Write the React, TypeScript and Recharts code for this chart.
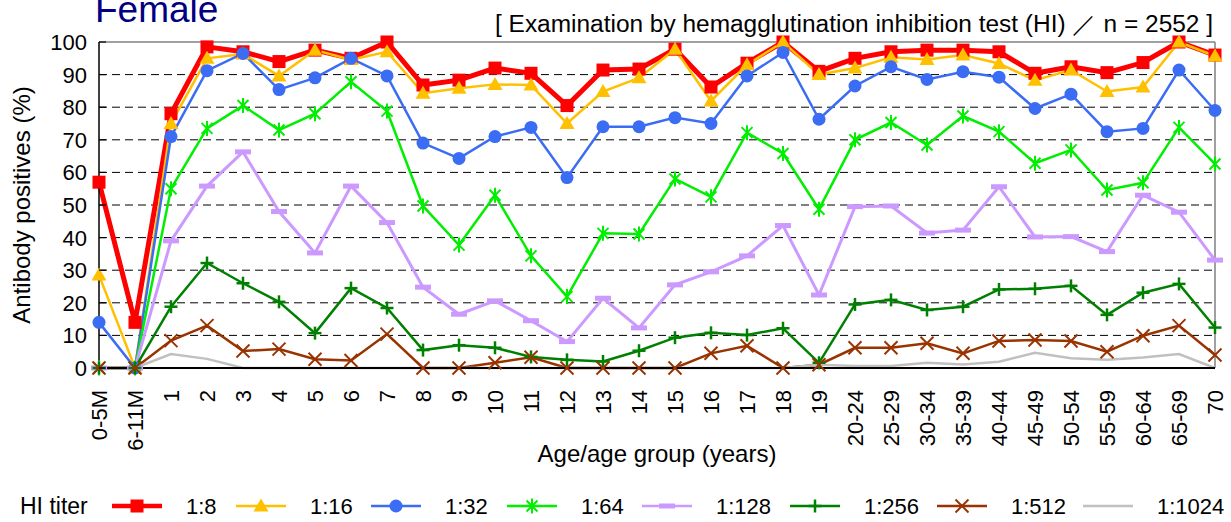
import React from 'react';
import { LineChart, Line, XAxis, YAxis, CartesianGrid, ReferenceLine } from 'recharts';

const ageGroups = [
  '0-5M', '6-11M', '1', '2', '3', '4', '5', '6', '7', '8', '9', '10', '11', '12', '13', '14', '15', '16', '17', '18', '19',
  '20-24', '25-29', '30-34', '35-39', '40-44', '45-49', '50-54', '55-59', '60-64', '65-69', '70',
];

const titer8 = [57, 14, 78, 98.5, 97, 94, 97.5, 95, 100, 86.8, 88.3, 92, 90.4, 80.5, 91.4, 91.7, 97.8, 86.2, 93.5, 100, 91, 95, 97, 97.5, 97.5, 97, 90.4, 92.4, 90.6, 93.7, 100, 96];
const titer16 = [28.5, 0, 75, 95, 96.3, 89.6, 97.5, 94.6, 97, 84.3, 85.8, 87, 86.8, 75, 84.8, 89, 97.8, 81.9, 93, 100, 90, 92, 95.3, 94.6, 96, 93.4, 88.3, 91.4, 84.8, 86.2, 100, 95.7];
const titer32 = [14, 0, 71, 91.2, 96.5, 85.4, 89, 95, 89.6, 69, 64.3, 71, 73.8, 58.4, 74, 74, 76.8, 75, 89.6, 96.8, 76.3, 86.5, 92.4, 88.5, 90.9, 89.2, 79.6, 84, 72.5, 73.5, 91.4, 79];
const titer64 = [0, 0, 55, 73.5, 80.5, 73, 78, 87.8, 78.8, 49.7, 37.7, 53, 34.4, 21.9, 41.3, 41.1, 58, 52.5, 72.2, 65.8, 48.7, 70, 75.3, 68.4, 77.3, 72.5, 62.8, 66.9, 54.6, 56.8, 73.8, 62.6];
const titer128 = [0, 0, 39, 55.8, 66.3, 48, 35.3, 55.8, 44.6, 24.8, 16.5, 20.6, 14.5, 8.1, 21.4, 12.3, 25.5, 29.5, 34.4, 43.7, 22.4, 49.5, 49.7, 41.4, 42.3, 55.6, 40.2, 40.3, 35.7, 53, 47.8, 33.1];
const titer256 = [0, 0, 18.8, 32.2, 26, 20.3, 10.7, 24.5, 18.4, 5.5, 7, 6.2, 3.4, 2.5, 2, 5.3, 9.3, 10.8, 10.1, 12.2, 1.6, 19.5, 20.9, 17.8, 18.8, 24.1, 24.3, 25.2, 16.3, 23.1, 25.8, 12.4];
const titer512 = [0, 0, 8.4, 13, 5.2, 5.8, 2.7, 2.3, 10.4, 0, 0, 1.6, 3.3, 0, 0, 0, 0, 4.5, 6.8, 0, 1, 6.2, 6.2, 7.6, 4.5, 8.3, 8.6, 8.3, 5, 9.9, 13, 4];
const titer1024 = [0, 0, 4.3, 2.8, 0, 0, 0, 0, 0, 0, 0, 0, 0, 0, 0, 0, 0, 0, 0, 0, 1, 0.6, 0.6, 1.6, 1.1, 1.9, 4.7, 3, 2.5, 3.2, 4.3, 0];

const yTicks = [0, 10, 20, 30, 40, 50, 60, 70, 80, 90, 100];
const gridValues = [10, 20, 30, 40, 50, 60, 70, 80, 90];

const titleText = 'Female';
const subtitleText = '[ Examination by hemagglutination inhibition test (HI)  \uFF0F  n = 2552 ]';
const yAxisTitle = 'Antibody positives (%)';
const xAxisTitle = 'Age/age group (years)';
const legendTitle = 'HI titer';

const FONT = '"Liberation Sans", Arial, Helvetica, sans-serif';

type Shape = 'square' | 'triangle' | 'circle' | 'asterisk' | 'dash' | 'plus' | 'cross' | 'none';

const seriesDefs: { key: string; name: string; values: number[]; color: string; width: number; shape: Shape }[] = [
  { key: 't8', name: '1:8', values: titer8, color: '#FF0000', width: 5, shape: 'square' },
  { key: 't16', name: '1:16', values: titer16, color: '#FFC000', width: 2.5, shape: 'triangle' },
  { key: 't32', name: '1:32', values: titer32, color: '#3A6CF4', width: 2.5, shape: 'circle' },
  { key: 't64', name: '1:64', values: titer64, color: '#00EE00', width: 2.5, shape: 'asterisk' },
  { key: 't128', name: '1:128', values: titer128, color: '#CC99FF', width: 3, shape: 'dash' },
  { key: 't256', name: '1:256', values: titer256, color: '#008000', width: 2.5, shape: 'plus' },
  { key: 't512', name: '1:512', values: titer512, color: '#993300', width: 2.5, shape: 'cross' },
  { key: 't1024', name: '1:1024', values: titer1024, color: '#C0C0C0', width: 2.5, shape: 'none' },
];

const data = ageGroups.map((age, i) => {
  const row: Record<string, string | number> = { age };
  seriesDefs.forEach((s) => {
    row[s.key] = s.values[i];
  });
  return row;
});

function Marker({ shape, color, cx, cy }: { shape: Shape; color: string; cx: number; cy: number }) {
  switch (shape) {
    case 'square':
      return <rect x={cx - 6.5} y={cy - 6.5} width={13} height={13} fill={color} />;
    case 'triangle':
      return <polygon points={`${cx},${cy - 7.5} ${cx - 7.5},${cy + 5.5} ${cx + 7.5},${cy + 5.5}`} fill={color} />;
    case 'circle':
      return <circle cx={cx} cy={cy} r={6.5} fill={color} />;
    case 'asterisk':
      return (
        <g stroke={color} strokeWidth={2}>
          <line x1={cx - 5.5} y1={cy - 5.5} x2={cx + 5.5} y2={cy + 5.5} />
          <line x1={cx - 5.5} y1={cy + 5.5} x2={cx + 5.5} y2={cy - 5.5} />
          <line x1={cx} y1={cy - 7.5} x2={cx} y2={cy + 7.5} />
        </g>
      );
    case 'dash':
      return <rect x={cx - 8} y={cy - 2.5} width={16} height={5} fill={color} />;
    case 'plus':
      return (
        <g stroke={color} strokeWidth={2.5}>
          <line x1={cx - 6.5} y1={cy} x2={cx + 6.5} y2={cy} />
          <line x1={cx} y1={cy - 6.5} x2={cx} y2={cy + 6.5} />
        </g>
      );
    case 'cross':
      return (
        <g stroke={color} strokeWidth={2}>
          <line x1={cx - 6.5} y1={cy - 6.5} x2={cx + 6.5} y2={cy + 6.5} />
          <line x1={cx - 6.5} y1={cy + 6.5} x2={cx + 6.5} y2={cy - 6.5} />
        </g>
      );
    default:
      return null;
  }
}

function makeDot(shape: Shape, color: string) {
  return (props: any) => {
    const { cx, cy, index } = props;
    if (cx == null || cy == null) return <g key={`d-${index}`} />;
    return (
      <g key={`d-${shape}-${index}`}>
        <Marker shape={shape} color={color} cx={cx} cy={cy} />
      </g>
    );
  };
}

function XTick(props: any) {
  const { x, payload } = props;
  const y = 390;
  return (
    <text
      x={x}
      y={y}
      dy="0.35em"
      transform={`rotate(-90, ${x}, ${y})`}
      textAnchor="end"
      fontFamily={FONT}
      fontSize={22}
      fill="#000"
    >
      {payload.value}
    </text>
  );
}

function YTick(props: any) {
  const { x, y, payload } = props;
  return (
    <g>
      <line x1={x} y1={y} x2={x + 7} y2={y} stroke="#000" strokeWidth={1.2} />
      <text x={x - 12} y={y} dy="0.36em" textAnchor="end" fontFamily={FONT} fontSize={22} fill="#000">
        {payload.value}
      </text>
    </g>
  );
}

const legendItemX = [112, 236, 371, 507, 642, 790, 937, 1083];
const LEGEND_Y = 506;

export default function App() {
  return (
    <div style={{ position: 'absolute', left: 0, top: 0, width: 1231, height: 522, background: '#fff' }}>
      <LineChart
        width={1231}
        height={522}
        data={data}
        margin={{ top: 42, right: 16, bottom: 0, left: 19 }}
      >
        <CartesianGrid
          horizontal
          vertical={false}
          horizontalValues={gridValues}
          stroke="#000"
          strokeDasharray="8 5"
          strokeWidth={1}
        />
        <ReferenceLine y={100} stroke="#808080" strokeWidth={1.5} ifOverflow="extendDomain" />
        <ReferenceLine x="70" stroke="#808080" strokeWidth={1.5} />
        <XAxis
          dataKey="age"
          interval={0}
          height={154}
          tick={<XTick />}
          tickLine={false}
          axisLine={{ stroke: '#000', strokeWidth: 2 }}
        />
        <YAxis
          width={80}
          domain={[0, 100]}
          ticks={yTicks}
          interval={0}
          tickSize={0}
          tickMargin={0}
          tickLine={false}
          tick={<YTick />}
          axisLine={{ stroke: '#000', strokeWidth: 1.5 }}
        />
        {seriesDefs.map((s) => (
          <Line
            key={s.key}
            type="linear"
            dataKey={s.key}
            name={s.name}
            stroke={s.color}
            strokeWidth={s.width}
            dot={s.shape === 'none' ? false : makeDot(s.shape, s.color)}
            activeDot={false}
            isAnimationActive={false}
          />
        ))}
      </LineChart>
      <svg
        width={1231}
        height={522}
        style={{ position: 'absolute', left: 0, top: 0, pointerEvents: 'none' }}
      >
        <text x={95} y={22} fontFamily={FONT} fontSize={37} fill="#000080">
          {titleText}
        </text>
        <text
          x={495}
          y={32}
          textLength={718}
          lengthAdjust="spacingAndGlyphs"
          fontFamily={FONT}
          fontSize={23}
          fill="#000"
        >
          {subtitleText}
        </text>
        <text
          x={0}
          y={0}
          transform="translate(30, 205) rotate(-90)"
          textAnchor="middle"
          fontFamily={FONT}
          fontSize={24}
          fill="#000"
        >
          {yAxisTitle}
        </text>
        <text x={657} y={462} textAnchor="middle" fontFamily={FONT} fontSize={24} fill="#000">
          {xAxisTitle}
        </text>
        <text x={20} y={514} fontFamily={FONT} fontSize={23} fill="#000">
          {legendTitle}
        </text>
        {seriesDefs.map((s, i) => {
          const x0 = legendItemX[i];
          return (
            <g key={`leg-${s.key}`}>
              <line
                x1={x0}
                y1={LEGEND_Y}
                x2={x0 + 50}
                y2={LEGEND_Y}
                stroke={s.color}
                strokeWidth={s.key === 't8' ? 4.5 : 2.5}
              />
              <Marker shape={s.shape} color={s.color} cx={x0 + 25} cy={LEGEND_Y} />
              <text x={x0 + 74} y={LEGEND_Y + 8} fontFamily={FONT} fontSize={22} fill="#000">
                {s.name}
              </text>
            </g>
          );
        })}
      </svg>
    </div>
  );
}
